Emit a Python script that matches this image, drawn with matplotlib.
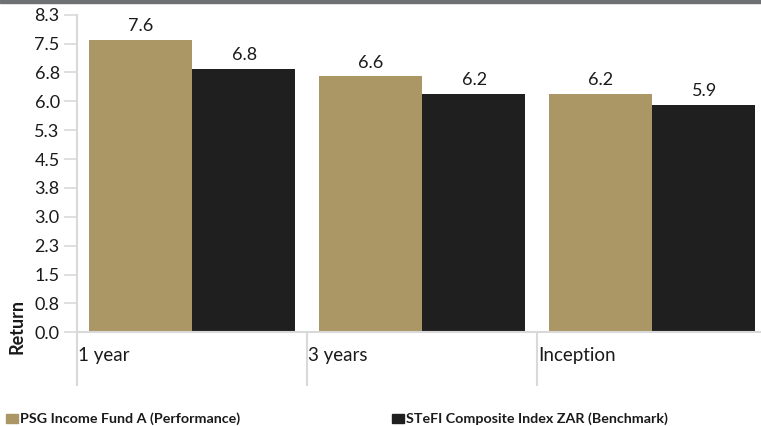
import matplotlib
matplotlib.use("Agg")
import matplotlib.pyplot as plt
from matplotlib.patches import Rectangle
from matplotlib.transforms import blended_transform_factory

plt.rcParams["font.family"] = ["Lato", "DejaVu Sans"]

categories = ["1 year", "3 years", "Inception"]
fund_values = [7.6, 6.65, 6.2]
bench_values = [6.85, 6.2, 5.9]
fund_labels = ["7.6", "6.6", "6.2"]
bench_labels = ["6.8", "6.2", "5.9"]
series_names = ["PSG Income Fund A (Performance)", "STeFI Composite Index ZAR (Benchmark)"]
ytick_values = [0.0, 0.75, 1.5, 2.25, 3.0, 3.75, 4.5, 5.25, 6.0, 6.75, 7.5, 8.25]
ytick_labels = ["0.0", "0.8", "1.5", "2.3", "3.0", "3.8", "4.5", "5.3", "6.0", "6.8", "7.5", "8.3"]

GOLD = "#ab9765"
BLACK = "#1f1f1f"
GRID = "#d9d9d9"
TEXT = "#1a1a1a"

W, H = 761, 426
fig = plt.figure(figsize=(W / 100, H / 100), dpi=100)

# thin grey band along the top edge
fig.patches.append(Rectangle((0, 1 - 3 / H), 1, 3 / H, transform=fig.transFigure,
                             color="#6f7074", zorder=0))

ax = fig.add_axes([77 / W, (H - 332.3) / H, (W - 77) / W, 317.6 / H])

bar_w = 0.45
offset = 0.052
xs = range(len(categories))
for i in xs:
    x_f = i + offset
    x_b = x_f + bar_w
    ax.bar(x_f, fund_values[i], width=bar_w - 0.004, align="edge", color=GOLD, zorder=2)
    ax.bar(x_b, bench_values[i], width=bar_w - 0.004, align="edge", color=BLACK, zorder=2)
    ax.text(x_f + bar_w / 2, fund_values[i] + 0.15, fund_labels[i], ha="center", va="bottom",
            fontsize=13, color=TEXT)
    ax.text(x_b + bar_w / 2, bench_values[i] + 0.15, bench_labels[i], ha="center", va="bottom",
            fontsize=13, color=TEXT)

ax.set_xlim(0, (W - 77) / 230)
ax.set_ylim(0, 8.25)

for s in ["top", "right", "left"]:
    ax.spines[s].set_visible(False)
ax.spines["bottom"].set_color(GRID)
ax.spines["bottom"].set_linewidth(1.5)

ax.set_yticks(ytick_values)
ax.set_yticklabels(ytick_labels, fontsize=13, color=TEXT)
ax.tick_params(axis="y", length=9.5, width=1.2, color=GRID, pad=3)
ax.set_xticks([])

# category divider lines extending below the axis
trans = blended_transform_factory(ax.transData, ax.transAxes)
drop = -(385 - 332.3) / 317.6
ax.plot([0, 0], [1.0, drop], transform=trans, color=GRID, lw=1.5, clip_on=False, zorder=1)
for i in range(1, len(categories)):
    ax.plot([i, i], [0, drop], transform=trans, color=GRID, lw=1.5, clip_on=False, zorder=1)
for i, cat in enumerate(categories):
    ax.text(i + 0.005, -(355 - 332.3) / 317.6, cat, transform=trans, ha="left", va="center",
            fontsize=13.5, color=TEXT)

fig.text(17 / W, (H - 326) / H, "Return", rotation=90, ha="center", va="center",
         fontsize=13, fontweight="bold", color=TEXT)

# legend along the bottom edge
leg_y = (H - 418.5) / H
for x0, col, name in [(6, GOLD, series_names[0]), (392, BLACK, series_names[1])]:
    fig.patches.append(Rectangle((x0 / W, (H - 423) / H), 12 / W, 9 / H,
                                 transform=fig.transFigure, color=col))
    fig.text((x0 + 13.5) / W, leg_y, name, ha="left", va="center", fontsize=10.3,
             fontweight="bold", color=TEXT)

fig.savefig("out.png", dpi=100)
